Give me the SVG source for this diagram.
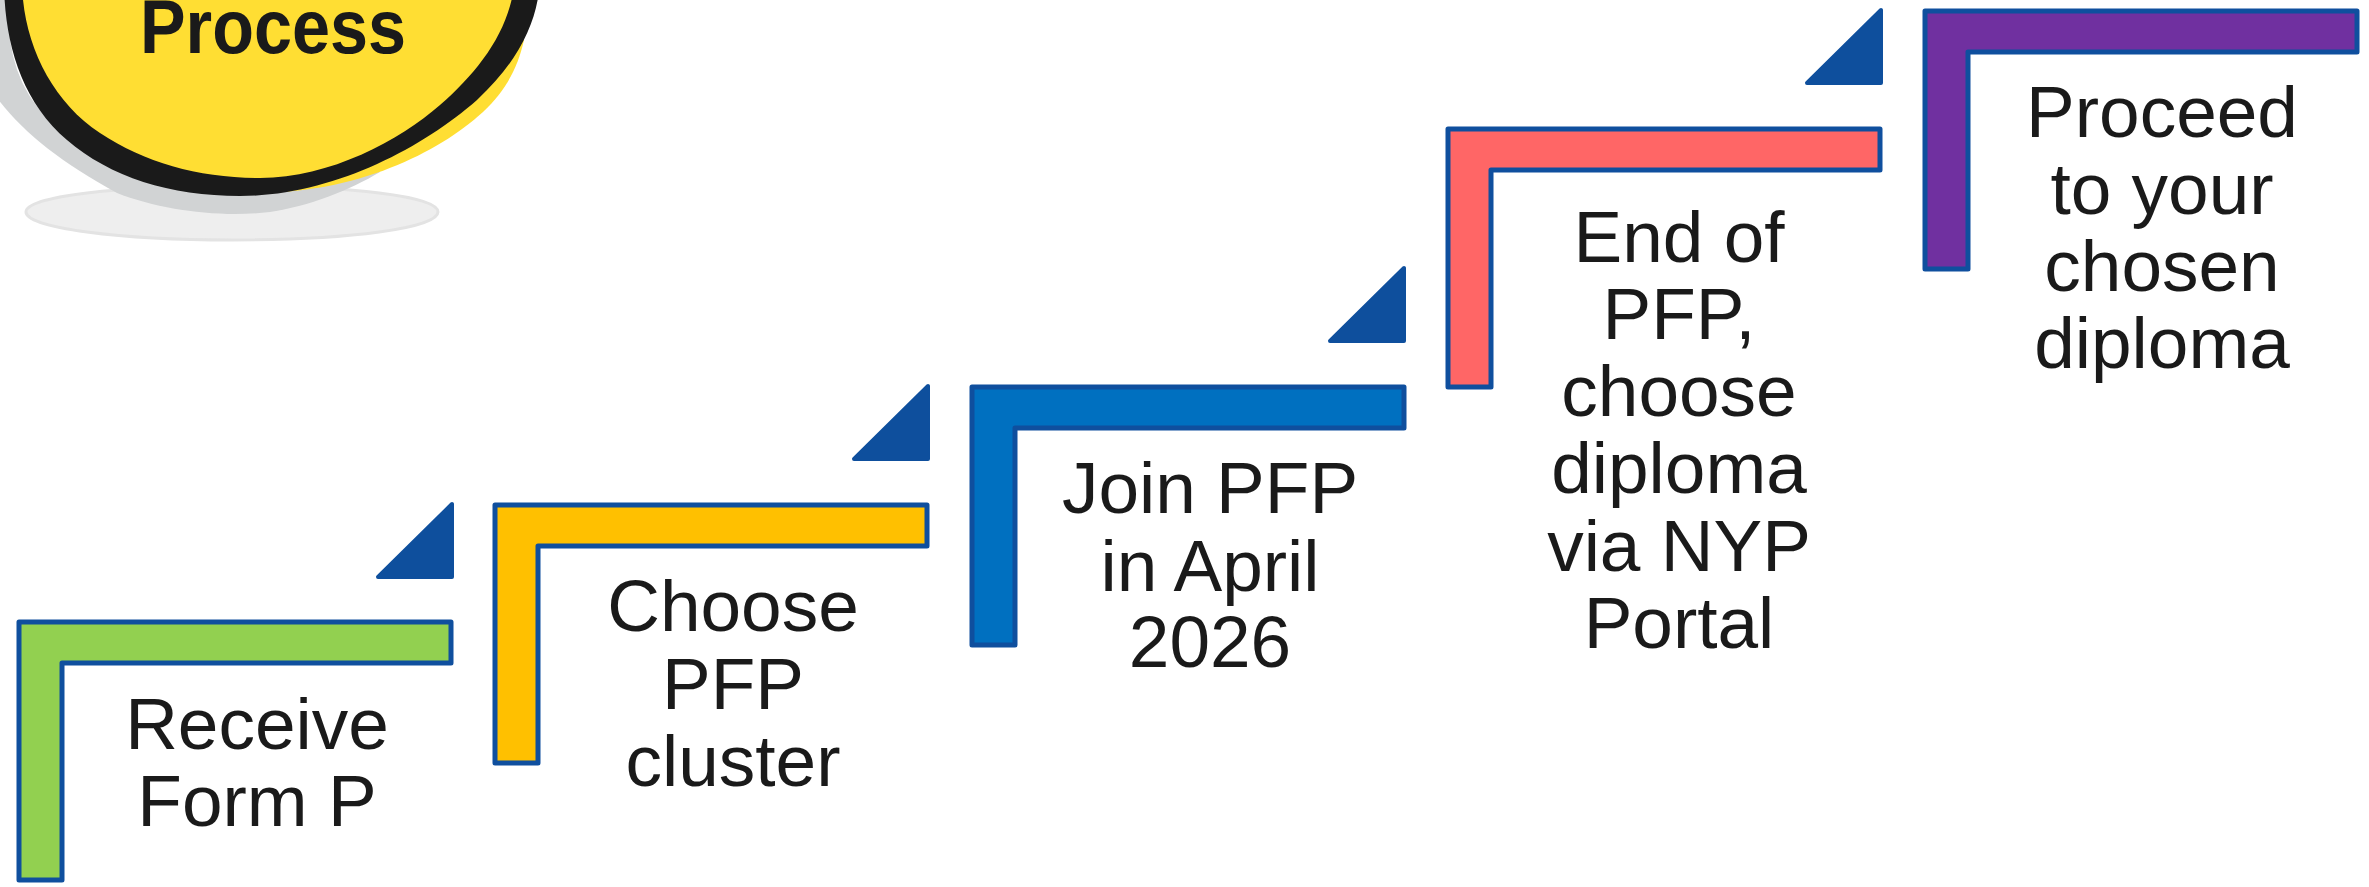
<svg xmlns="http://www.w3.org/2000/svg" width="2369" height="887" viewBox="0 0 2369 887">
<defs>
<style>
.step{stroke:#0f4f9e;stroke-width:5;stroke-linejoin:round}
.tri{fill:#0e4f9d;stroke:#0e4f9d;stroke-width:4;stroke-linejoin:round}
.lbl{font-family:"Liberation Sans",Arial,sans-serif;font-size:73px;fill:#1a1a1a;text-anchor:middle}
</style>
</defs>
<rect width="2369" height="887" fill="#ffffff"/>
<g id="badge">
<path d="M26,212 C26,196 120,186 232,186 C350,186 438,196 438,212 C438,228 350,240 232,240 C120,240 26,228 26,212 Z" fill="#eeeeee" stroke="#e3e3e3" stroke-width="3"/>
<path d="M-5,-20 L-5,95 C20,130 60,162 117,193 C160,210 220,218 270,212 C310,206 350,190 380,172 L300,100 Z" fill="#d1d3d4"/>
<path d="M200,190 C330,206 430,160 483,112 C508,88 518,66 524,40 L300,40 Z" fill="#ffde33"/>
<path d="M12,40 C18,80 35,112 75,136" fill="none" stroke="#ffffff" stroke-width="4"/>
<path d="M4,-20 C4,40 20,100 67,140 C110,177 170,196 240,196 C330,196 420,150 477,100 C520,60 538,20 540,-20 Z" fill="#1a1a1a"/>
<path d="M22,-20 C22,40 50,100 100,133 C145,163 200,178 260,178 C330,178 400,140 440,105 C480,70 510,30 515,-20 Z" fill="#ffde33"/>
<text x="273" y="53" font-family="'Liberation Sans',Arial,sans-serif" font-weight="bold" font-size="76" fill="#1a1a1a" text-anchor="middle" textLength="266" lengthAdjust="spacingAndGlyphs">Process</text>
</g>
<g id="arrows">
<polygon class="tri" points="378,577 452,504 452,577"/>
<polygon class="tri" points="854,459 928,386 928,459"/>
<polygon class="tri" points="1330,341 1404,268 1404,341"/>
<polygon class="tri" points="1807,83 1881,10 1881,83"/>
</g>
<g id="step1">
<path class="step" fill="#92d050" d="M19,622 H451 V663 H62 V880 H19 Z"/>
<text class="lbl" x="257"><tspan x="257" y="749">Receive</tspan><tspan x="257" y="826">Form P</tspan></text>
</g>
<g id="step2">
<path class="step" fill="#ffc000" d="M495,505 H927 V546 H538 V763 H495 Z"/>
<text class="lbl"><tspan x="733" y="631">Choose</tspan><tspan x="733" y="709">PFP</tspan><tspan x="733" y="786">cluster</tspan></text>
</g>
<g id="step3">
<path class="step" fill="#0070c0" d="M972,387 H1404 V428 H1015 V645 H972 Z"/>
<text class="lbl"><tspan x="1210" y="513">Join PFP</tspan><tspan x="1210" y="591">in April</tspan><tspan x="1210" y="667">2026</tspan></text>
</g>
<g id="step4">
<path class="step" fill="#ff6666" d="M1448,129 H1880 V170 H1491 V387 H1448 Z"/>
<text class="lbl"><tspan x="1679" y="262">End of</tspan><tspan x="1679" y="339">PFP,</tspan><tspan x="1679" y="416">choose</tspan><tspan x="1679" y="493">diploma</tspan><tspan x="1679" y="571">via NYP</tspan><tspan x="1679" y="648">Portal</tspan></text>
</g>
<g id="step5">
<path class="step" fill="#7030a0" d="M1925,11 H2357 V52 H1968 V269 H1925 Z"/>
<text class="lbl"><tspan x="2162" y="137">Proceed</tspan><tspan x="2162" y="214">to your</tspan><tspan x="2162" y="291">chosen</tspan><tspan x="2162" y="368">diploma</tspan></text>
</g>
</svg>
